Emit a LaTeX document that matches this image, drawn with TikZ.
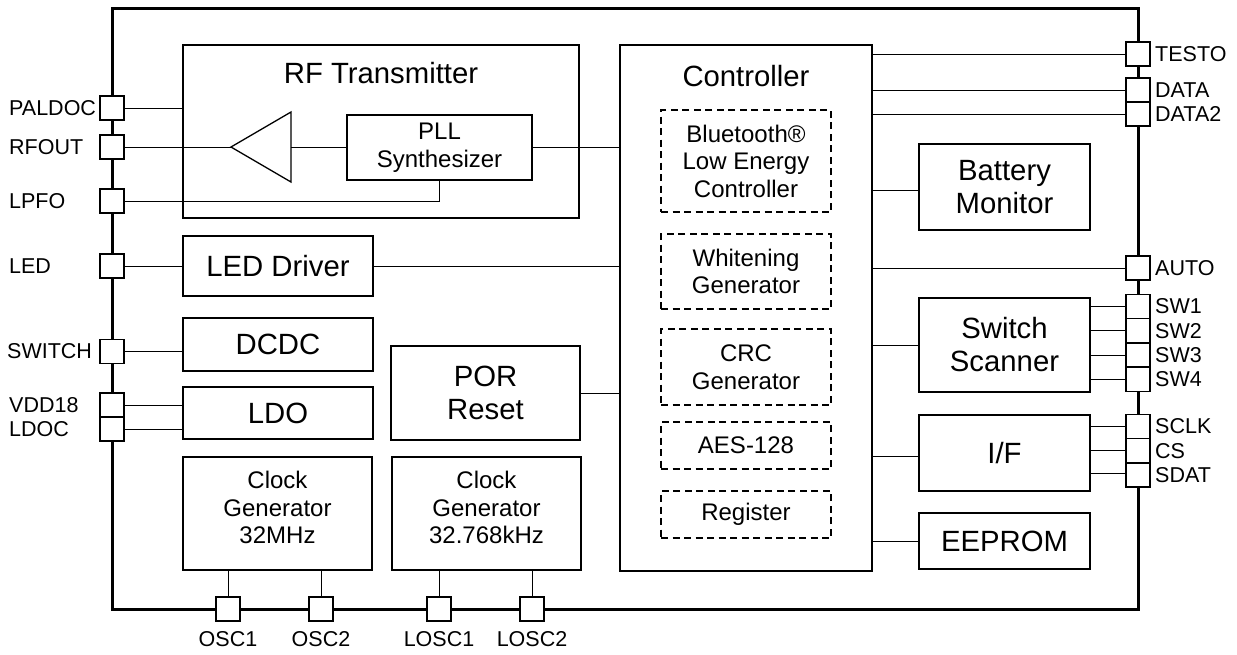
\documentclass[tikz,border=0pt]{standalone}
\usepackage{fontspec}
\setmainfont{Liberation Sans}
\begin{document}
\begin{tikzpicture}[x=1pt,y=-1pt,
 blk/.style={draw, line width=1.3pt, inner sep=0pt, align=center, font=\fontsize{29.3}{33}\selectfont},
 sblk/.style={blk, font=\fontsize{24}{27.5}\selectfont},
 dbox/.style={draw, dash pattern=on 7pt off 4.5pt, line width=1.2pt, inner sep=0pt, align=center, font=\fontsize{24}{27.5}\selectfont},
 pin/.style={draw, fill=white, line width=1.3pt, minimum size=24pt, inner sep=0pt},
 plab/.style={font=\fontsize{21.5}{24}\selectfont, inner sep=0pt},
 big/.style={font=\fontsize{29.3}{33}\selectfont, inner sep=0pt},
 conn/.style={line width=1pt},
 chip/.style={line width=3pt},
]
\useasboundingbox (0,0) rectangle (1237,654);

% chip outline
\draw[chip] (112,8) rectangle (1138,609);

% RF transmitter
\node[blk, minimum width=396pt, minimum height=173pt] (rf) at (381,131.5) {};
\node[big] (rftitle) at (381,73) {RF Transmitter};
\node[sblk, minimum width=185pt, minimum height=65pt] (pll) at (439.5,147.5) {PLL\\Synthesizer};
\coordinate (tritip) at (231,147);
\coordinate (tritop) at (291,112);
\coordinate (tribot) at (291,182);
\coordinate (tribase) at (291,147);
\draw[line width=1.3pt, line join=miter] (tritip) -- (tritop) -- (tribot) -- cycle;

% Controller
\node[blk, minimum width=252pt, minimum height=526pt] (ctrl) at (746,308) {};
\node[big] (ctrltitle) at (746,76) {Controller};
\node[dbox, minimum width=170pt, minimum height=102pt] (bt) at (746,161) {Bluetooth®\\Low Energy\\Controller};
\node[dbox, minimum width=170pt, minimum height=75pt] (wh) at (746,271.5) {Whitening\\Generator};
\node[dbox, minimum width=170pt, minimum height=76pt] (crc) at (746,367) {CRC\\Generator};
\node[dbox, minimum width=170pt, minimum height=47pt] (aes) at (746,445.5) {AES-128};
\node[dbox, minimum width=170pt, minimum height=47pt] (reg) at (746,514.5) {Register};

% left blocks
\node[blk, minimum width=190pt, minimum height=60pt] (ledd) at (278,266) {LED Driver};
\node[blk, minimum width=190pt, minimum height=53pt] (dcdc) at (278,344.5) {DCDC};
\node[blk, minimum width=190pt, minimum height=52pt] (ldo) at (278,413) {LDO};
\node[blk, minimum width=189pt, minimum height=94pt] (por) at (485.5,393) {POR\\Reset};
\node[sblk, minimum width=189pt, minimum height=113pt, text depth=12pt] (clk1) at (277.5,513.5) {Clock\\Generator\\32MHz};
\node[sblk, minimum width=189pt, minimum height=113pt, text depth=12pt] (clk2) at (486.5,513.5) {Clock\\Generator\\32.768kHz};

% right blocks
\node[blk, minimum width=171pt, minimum height=86pt] (bat) at (1004.5,187) {Battery\\Monitor};
\node[blk, minimum width=171pt, minimum height=94pt] (sws) at (1004.5,345) {Switch\\Scanner};
\node[blk, minimum width=171pt, minimum height=76pt] (iff) at (1004.5,453) {I/F};
\node[blk, minimum width=171pt, minimum height=56pt] (eep) at (1004.5,541) {EEPROM};

% pins
\node[pin] (paldoc) at (112,108) {};
\node[pin] (rfout) at (112,147) {};
\node[pin] (lpfo) at (112,201) {};
\node[pin] (led) at (112,266) {};
\node[pin] (switch) at (112,351.5) {};
\node[pin] (vdd) at (112,405) {};
\node[pin] (ldoc) at (112,429) {};

\node[pin] (testo) at (1138,54) {};
\node[pin] (data) at (1138,90) {};
\node[pin] (data2) at (1138,114) {};
\node[pin] (auto) at (1138,268) {};
\node[pin] (sw1) at (1138,306.5) {};
\node[pin] (sw2) at (1138,330.8) {};
\node[pin] (sw3) at (1138,355.1) {};
\node[pin] (sw4) at (1138,379.4) {};
\node[pin] (sclk) at (1138,426.5) {};
\node[pin] (cs) at (1138,450.8) {};
\node[pin] (sdat) at (1138,475.1) {};

\node[pin] (osc1) at (228,609) {};
\node[pin] (osc2) at (321,609) {};
\node[pin] (losc1) at (439,609) {};
\node[pin] (losc2) at (532,609) {};

% pin labels
\node[plab, anchor=west] (lpaldoc) at (9,108) {PALDOC};
\node[plab, anchor=west] (lrfout) at (9,147) {RFOUT};
\node[plab, anchor=west] (llpfo) at (9,201) {LPFO};
\node[plab, anchor=west] (lled) at (9,266) {LED};
\node[plab, anchor=west] (lswitch) at (7,351.5) {SWITCH};
\node[plab, anchor=west] (lvdd) at (9,405) {VDD18};
\node[plab, anchor=west] (lldoc) at (9,429) {LDOC};

\node[plab, anchor=west] (ltesto) at (1155,54) {TESTO};
\node[plab, anchor=west] (ldata) at (1155,90) {DATA};
\node[plab, anchor=west] (ldata2) at (1155,114) {DATA2};
\node[plab, anchor=west] (lauto) at (1155,268) {AUTO};
\node[plab, anchor=west] (lsw1) at (1155,306.5) {SW1};
\node[plab, anchor=west] (lsw2) at (1155,330.8) {SW2};
\node[plab, anchor=west] (lsw3) at (1155,355.1) {SW3};
\node[plab, anchor=west] (lsw4) at (1155,379.4) {SW4};
\node[plab, anchor=west] (lsclk) at (1155,426.5) {SCLK};
\node[plab, anchor=west] (lcs) at (1155,450.8) {CS};
\node[plab, anchor=west] (lsdat) at (1155,475.1) {SDAT};

\node[plab] (losc1l) at (228,639) {OSC1};
\node[plab] (losc2l) at (321,639) {OSC2};
\node[plab] (llosc1) at (439,639) {LOSC1};
\node[plab] (llosc2) at (532,639) {LOSC2};

% connectors left
\draw[conn] (paldoc.east) -- (paldoc.east -| rf.west);
\draw[conn] (rfout.east) -- (tritip);
\draw[conn] (tribase) -- (tribase -| pll.west);
\draw[conn] (pll.east) -- (pll.east -| ctrl.west);
\draw[conn] (lpfo.east) -- (lpfo.east -| pll.south) -- (pll.south);
\draw[conn] (led.east) -- (led.east -| ledd.west);
\draw[conn] (ledd.east) -- (ledd.east -| ctrl.west);
\draw[conn] (switch.east) -- (switch.east -| dcdc.west);
\draw[conn] (vdd.east) -- (vdd.east -| ldo.west);
\draw[conn] (ldoc.east) -- (ldoc.east -| ldo.west);
\draw[conn] (por.east) -- (por.east -| ctrl.west);
\draw[conn] (osc1.north) -- (osc1.north |- clk1.south);
\draw[conn] (osc2.north) -- (osc2.north |- clk1.south);
\draw[conn] (losc1.north) -- (losc1.north |- clk2.south);
\draw[conn] (losc2.north) -- (losc2.north |- clk2.south);

% connectors right
\draw[conn] (testo.west) -- (testo.west -| ctrl.east);
\draw[conn] (data.west) -- (data.west -| ctrl.east);
\draw[conn] (data2.west) -- (data2.west -| ctrl.east);
\draw[conn] ([yshift=-3pt]bat.west) -- ([yshift=-3pt]bat.west -| ctrl.east);
\draw[conn] (auto.west) -- (auto.west -| ctrl.east);
\draw[conn] (sws.west) -- (sws.west -| ctrl.east);
\draw[conn] (sw1.west) -- (sw1.west -| sws.east);
\draw[conn] (sw2.west) -- (sw2.west -| sws.east);
\draw[conn] (sw3.west) -- (sw3.west -| sws.east);
\draw[conn] (sw4.west) -- (sw4.west -| sws.east);
\draw[conn] ([yshift=-3pt]iff.west) -- ([yshift=-3pt]iff.west -| ctrl.east);
\draw[conn] (sclk.west) -- (sclk.west -| iff.east);
\draw[conn] (cs.west) -- (cs.west -| iff.east);
\draw[conn] ([yshift=2pt]sdat.west) -- ([yshift=2pt]sdat.west -| iff.east);
\draw[conn] (eep.west) -- (eep.west -| ctrl.east);
\end{tikzpicture}
\end{document}
